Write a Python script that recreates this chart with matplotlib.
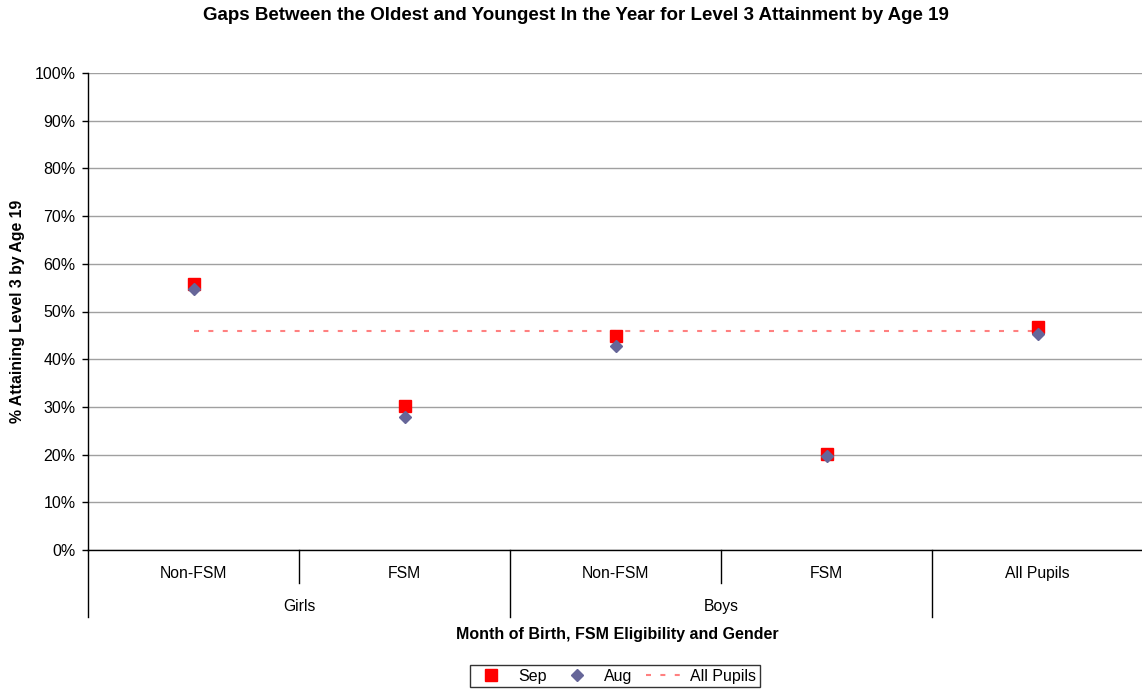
import numpy as np
import matplotlib.pyplot as plt
from matplotlib.transforms import blended_transform_factory

plt.rcParams['font.family'] = ['Liberation Sans', 'DejaVu Sans']

# data
categories = ['Non-FSM', 'FSM', 'Non-FSM', 'FSM', 'All Pupils']
groups = ['Girls', 'Boys']
sep = [55.8, 30.2, 44.9, 20.1, 46.8]
aug = [54.7, 27.9, 42.8, 19.8, 45.2]
all_pupils = [46.0, 46.0, 46.0, 46.0, 46.0]

fig = plt.figure(figsize=(11.42, 6.91), dpi=100)
W, H = 1142, 691
ax = fig.add_axes([88 / W, 1 - 550 / H, (1143 - 88) / W, (550 - 73) / H])

x = np.arange(len(categories))
ax.plot(x, sep, 's', color='#ff0000', markersize=8.5, label='Sep', zorder=3)
ax.plot(x, aug, 'D', color='#666699', markersize=6.5, label='Aug', zorder=4)
ax.plot(x, all_pupils, '--', color='#ff8080', linewidth=1.5, dashes=(2.4, 4.5), label='All Pupils', zorder=2)

ax.set_xlim(-0.5, 4.5)
ax.set_ylim(0, 100)
ax.set_yticks(np.arange(0, 101, 10))
ax.set_yticklabels([f'{v}%' for v in range(0, 101, 10)], fontsize=11.5)
ax.yaxis.grid(True, color='#a0a0a0', linewidth=1)
ax.set_axisbelow(True)
ax.tick_params(axis='y', direction='out', length=4, width=1, pad=5)
ax.set_xticks([])
for s in ['top', 'right']:
    ax.spines[s].set_visible(False)
ax.spines['left'].set_linewidth(1)
ax.spines['bottom'].set_linewidth(1)

# hierarchical category axis
trans = blended_transform_factory(ax.transData, ax.transAxes)
for i, c in enumerate(categories):
    ax.text(i, -0.049, c, transform=trans, ha='center', va='center', fontsize=11.3)
for i, g in enumerate(groups):
    ax.text(2 * i + 0.5, -0.118, g, transform=trans, ha='center', va='center', fontsize=11.3)
for xs in [0.5, 2.5]:
    ax.plot([xs, xs], [0, -0.069], transform=trans, color='black', lw=1, clip_on=False)
for xs in [-0.5, 1.5, 3.5]:
    ax.plot([xs, xs], [0, -0.14], transform=trans, color='black', lw=1, clip_on=False)

fig.text(576 / W, 1 - 16 / H, 'Gaps Between the Oldest and Youngest In the Year for Level 3 Attainment by Age 19',
         ha='center', va='center', fontsize=13.5, fontweight='bold')
fig.text(617 / W, 1 - 634 / H, 'Month of Birth, FSM Eligibility and Gender',
         ha='center', va='center', fontsize=11.5, fontweight='bold')
fig.text(18 / W, 1 - 311 / H, '% Attaining Level 3 by Age 19', rotation=90,
         ha='center', va='center', fontsize=11.4, fontweight='bold')

leg = fig.legend(loc='center', bbox_to_anchor=(615 / W, 1 - 676 / H), ncol=3, fontsize=11.5,
                 frameon=True, fancybox=False, edgecolor='black', handlelength=2.2,
                 columnspacing=0.8, handletextpad=0.6, borderpad=0.25)
leg.get_frame().set_linewidth(1)

fig.savefig('out.png', dpi=100, facecolor='white')
